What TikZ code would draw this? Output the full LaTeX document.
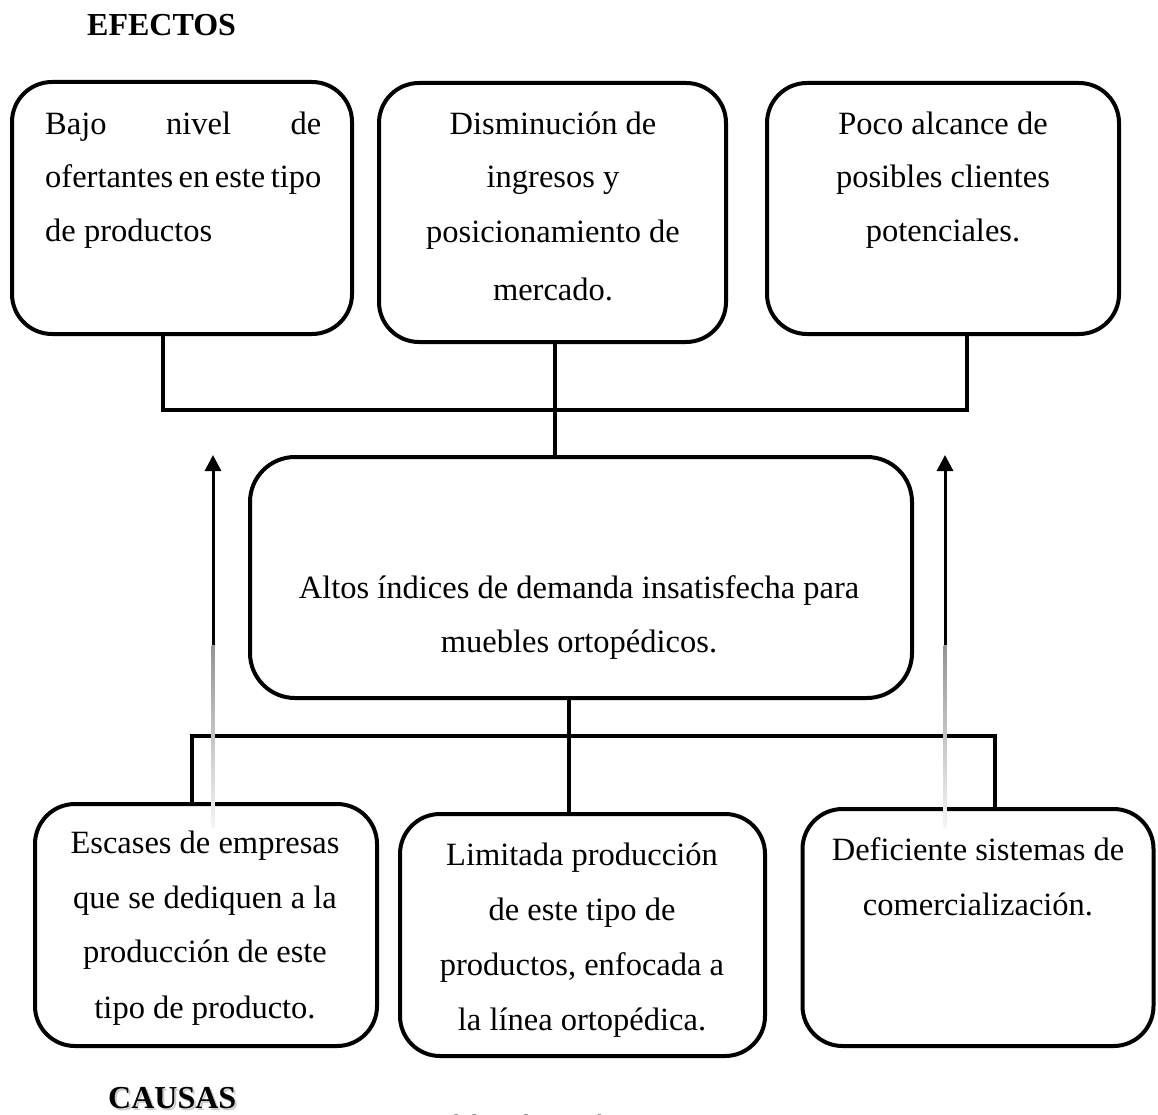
\documentclass[tikz,border=0pt]{standalone}
\usepackage{fontspec}
\setmainfont{Liberation Serif}
\usetikzlibrary{arrows.meta}
\begin{document}
\begin{tikzpicture}[x=1pt,y=-1pt,
  box/.style={draw, line width=4pt, rounded corners=40pt, inner sep=0pt},
  conn/.style={line width=4pt},
  txt/.style={inner sep=0pt, font=\fontsize{32.5}{38}\selectfont},
  ttl/.style={inner sep=0pt, anchor=base west, font=\bfseries\fontsize{32}{38}\selectfont},
  uparrow/.style={line width=3pt, -{Triangle[length=16pt,width=16pt]}}
]
\useasboundingbox[fill=white] (0,0) rectangle (1158,1115);

% titles
\node[ttl] (efectos) at (87,36) {EFECTOS};
\node[ttl, text=black!40, opacity=0.5] (causasshadow) at (110,1110) {CAUSAS};
\node[ttl] (causas) at (108,1108) {CAUSAS};
\node[inner sep=0pt, anchor=base west, text=black!65,
      font=\itshape\fontsize{24}{28}\selectfont] (elab) at (437,1131) {Elaborado por: la autora};

% effect boxes
\node[box, minimum width=340pt, minimum height=252pt] (e1) at (182,208) {};
\node[box, minimum width=347pt, minimum height=259pt] (e2) at (552.5,212.5) {};
\node[box, minimum width=352pt, minimum height=251pt] (e3) at (943,208.5) {};

% central box
\node[box, minimum width=662pt, minimum height=241pt, rounded corners=45pt] (c) at (581,577.5) {};

% cause boxes
\node[box, minimum width=342pt, minimum height=242pt] (k1box) at (206,925) {};
\node[box, minimum width=365pt, minimum height=242pt] (k2box) at (582.5,935) {};
\node[box, minimum width=351pt, minimum height=237pt] (k3box) at (978,927.5) {};

% texts of effects
\node[txt, anchor=base west] (t11) at (45,135) {\makebox[276pt][s]{Bajo\hfill nivel\hfill de}};
\node[txt, anchor=base west] (t12) at (45,188) {\makebox[276pt][s]{ofertantes en este tipo}};
\node[txt, anchor=base west] (t13) at (45,242) {de productos};

\node[txt, anchor=base] (t21) at (553,135) {Disminución de};
\node[txt, anchor=base] (t22) at (553,188) {ingresos y};
\node[txt, anchor=base] (t23) at (553,243) {posicionamiento de};
\node[txt, anchor=base] (t24) at (553,300) {mercado.};

\node[txt, anchor=base] (t31) at (943,135) {Poco alcance de};
\node[txt, anchor=base] (t32) at (943,188) {posibles clientes};
\node[txt, anchor=base] (t33) at (943,242) {potenciales.};

% central text
\node[txt, anchor=base] (tc1) at (579,598) {Altos índices de demanda insatisfecha para};
\node[txt, anchor=base] (tc2) at (579,652) {muebles ortopédicos.};

% cause texts
\node[txt, anchor=base] (u11) at (205,853) {Escases de empresas};
\node[txt, anchor=base] (u12) at (205,908) {que se dediquen a la};
\node[txt, anchor=base] (u13) at (205,962) {producción de este};
\node[txt, anchor=base] (u14) at (205,1018) {tipo de producto.};

\node[txt, anchor=base] (u21) at (582,865) {Limitada producción};
\node[txt, anchor=base] (u22) at (582,920) {de este tipo de};
\node[txt, anchor=base] (u23) at (582,975) {productos, enfocada a};
\node[txt, anchor=base] (u24) at (582,1030) {la línea ortopédica.};

\node[txt, anchor=base] (u31) at (978,860) {Deficiente sistemas de};
\node[txt, anchor=base] (u32) at (978,915) {comercialización.};

% top bracket
\coordinate (b1) at (163,410);
\coordinate (b2) at (555,410);
\coordinate (b3) at (967,410);
\draw[conn] (b1 |- e1.south) -- (b1) -- (b3) -- (b3 |- e3.south);
\draw[conn] (b2 |- e2.south) -- (b2 |- c.north);

% bottom bracket
\coordinate (k1) at (192,736);
\coordinate (k2) at (569,736);
\coordinate (k3) at (995,736);
\draw[conn] (k1 |- k1box.north) -- (k1) -- (k3) -- (k3 |- k3box.north);
\draw[conn] (k2 |- c.south) -- (k2 |- k2box.north);

% fading arrows
\coordinate (a1top) at (213,455);
\coordinate (a1mid) at (213,645);
\coordinate (a1bot) at (213,827);
\coordinate (a2top) at (945,455);
\coordinate (a2mid) at (945,645);
\coordinate (a2bot) at (945,827);
\shade[top color=black!42, bottom color=black!4] (211.5,645) rectangle (214.5,827);
\shade[top color=black!42, bottom color=black!4] (943.5,645) rectangle (946.5,827);
\draw[uparrow] (a1mid) -- (a1top);
\draw[uparrow] (a2mid) -- (a2top);
\end{tikzpicture}
\end{document}
